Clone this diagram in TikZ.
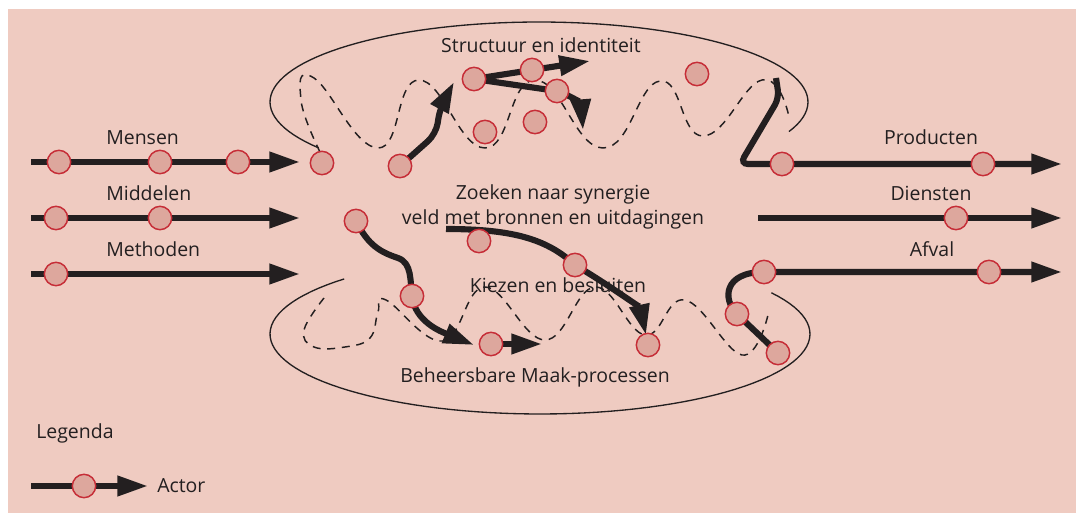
\documentclass[tikz,border=0pt]{standalone}
\usepackage{fontspec}
\setmainfont{Open Sans}
\usepackage{tikz}
\usetikzlibrary{arrows.meta, positioning}
\definecolor{paper}{RGB}{239,203,193}
\definecolor{actorfill}{RGB}{221,167,157}
\definecolor{actorline}{RGB}{198,45,55}
\definecolor{ink}{RGB}{35,31,32}
\pgfdeclarelayer{bg}
\pgfdeclarelayer{lines}
\pgfsetlayers{bg,lines,main}
\tikzset{
  actor/.style={circle, draw=actorline, fill=actorfill, line width=1.1pt,
    minimum size=17.5pt, inner sep=0pt},
  lbl/.style={font=\fontsize{14.6pt}{17pt}\selectfont, text=ink, inner sep=0pt},
  flow/.style={-{Triangle[length=23pt,width=14.5pt]}, line width=4.6pt, draw=ink},
  zone/.style={draw=ink, line width=1pt},
  wander/.style={draw=ink, line width=1.1pt, dash pattern=on 6pt off 5pt},
}

\begin{document}
\begin{tikzpicture}[x=0.75pt, y=-0.75pt]
\useasboundingbox (0,0) rectangle (1076,513);
\begin{pgfonlayer}{bg}
\fill[paper] (8,9) rectangle (1076,513);
\end{pgfonlayer}

% Labels
\node[lbl, anchor=base west] (mensen) at (106,145) {Mensen};
\node[lbl, anchor=base west] (middelen) at (106,201) {Middelen};
\node[lbl, anchor=base west] (methoden) at (106,257) {Methoden};
\node[lbl, anchor=base] (producten) at (931,145) {Producten};
\node[lbl, anchor=base] (diensten) at (931,201) {Diensten};
\node[lbl, anchor=base] (afval) at (932,257) {Afval};
\node[lbl, anchor=base] (structuur) at (541,53) {Structuur en identiteit};
\node[lbl, anchor=base] (zoeken) at (553,200) {Zoeken naar synergie};
\node[lbl, anchor=base] (veld) at (553,225) {veld met bronnen en uitdagingen};
\node[lbl, anchor=base] (kiezen) at (558,293) {Kiezen en besluiten};
\node[lbl, anchor=base] (beheers) at (535,383) {Beheersbare Maak-processen};
\node[lbl, anchor=base west] (legenda) at (36,439) {Legenda};
\node[lbl, anchor=base west] (actorlbl) at (157,493) {Actor};

% Actors
\node[actor] (mens1) at (59,162) {};
\node[actor] (mens2) at (160,162) {};
\node[actor] (mens3) at (238,162) {};
\node[actor] (midd1) at (56,218) {};
\node[actor] (midd2) at (160,218) {};
\node[actor] (meth1) at (56,274) {};
\node[actor] (prod1) at (782,164) {};
\node[actor] (prod2) at (983,164) {};
\node[actor] (dien1) at (956,218) {};
\node[actor] (afv1) at (764,272) {};
\node[actor] (afv2) at (989,272) {};
\node[actor] (afv3) at (737,314) {};
\node[actor] (afv4) at (778,353) {};
\node[actor] (top1) at (322,163) {};
\node[actor] (top2) at (400,166) {};
\node[actor] (top3) at (474,79) {};
\node[actor] (top4) at (532,70) {};
\node[actor] (top5) at (557,91) {};
\node[actor] (top6) at (697,74) {};
\node[actor] (top7) at (485,132) {};
\node[actor] (top8) at (535,122) {};
\node[actor] (bot1) at (356,221) {};
\node[actor] (bot2) at (479,241) {};
\node[actor] (bot3) at (575,265) {};
\node[actor] (bot4) at (412,296) {};
\node[actor] (bot5) at (491,344) {};
\node[actor] (bot6) at (648,345) {};
\node[actor] (leg1) at (84,486) {};

% Free ends
\coordinate (mensin) at (31,162);
\coordinate (menstip) at (300,162);
\coordinate (middin) at (31,218);
\coordinate (middtip) at (300,218);
\coordinate (methin) at (31,274);
\coordinate (methtip) at (300,274);
\coordinate (prodin) at (776,78);
\coordinate (prodtip) at (1062,164);
\coordinate (dienin) at (758,218);
\coordinate (dientip) at (1062,218);
\coordinate (afvtip) at (1062,272);
\coordinate (toptip1) at (454,82);
\coordinate (toptip2) at (590,61);
\coordinate (toptip3) at (583,130);
\coordinate (synin) at (446,229);
\coordinate (bottip1) at (474,345);
\coordinate (bottip2) at (542,344);
\coordinate (bottip3) at (646,335);
\coordinate (legin) at (31,486);
\coordinate (legtip) at (148,486);

\begin{pgfonlayer}{lines}
% Zones
\draw[zone] plot[domain=145:381.7, samples=90, variable=\t]
  ({539+269*cos(\t)}, {102+80*sin(\t)});
\draw[zone] plot[domain=-31:223.5, samples=90, variable=\t]
  ({540+270*cos(\t)}, {334+80*sin(\t)});
\draw[wander] plot[smooth, tension=0.8] coordinates {(320,152) (301,100)
  (314,78) (378,148) (419,80) (485,148) (535,80) (603,148) (660,81)
  (703,136) (762,80) (789,117)};
\draw[wander] plot[smooth, tension=0.7] coordinates {(324,298) (304,330)
  (314,347) (345,347) (370,338) (378,312) (386,300) (443,341) (485,287)
  (545,340) (595,287) (645,335) (685,300) (742,355) (768,315)};

% In and out
\draw[flow] (mensin) -- (menstip);
\draw[flow] (middin) -- (middtip);
\draw[flow] (methin) -- (methtip);
\draw[flow, rounded corners=6pt] (prodin) -- (779,98) -- (740,164)
  -- (prod1.center) -- (prodtip);
\draw[flow] (dienin) -- (dientip);
\draw[flow] (afv4.center) -- (afv3.center) .. controls (722,299) and (724,272)
  .. (afv1.center) -- (afvtip);

% Inside the field
\draw[flow, rounded corners=8pt] (top2.center) -- (436,134) -- (440,108) -- (toptip1);
\draw[flow] (top3.center) -- (toptip2);
\draw[flow] (top3.center) -- (top5.center) .. controls (572,96) and (581,104)
  .. (toptip3);
\draw[flow] (bot1.center) .. controls (368,245) and (380,252) .. (398,258)
  .. controls (412,263) and (410,280) .. (bot4.center)
  .. controls (415,322) and (442,332) .. (bottip1);
\draw[flow] (bot5.center) -- (bottip2);
\draw[flow] (synin) .. controls (515,229) and (548,240) .. (bot3.center)
  .. controls (612,287) and (640,308) .. (bottip3);

% Legend
\draw[flow] (legin) -- (legtip);
\end{pgfonlayer}
\end{tikzpicture}
\end{document}
